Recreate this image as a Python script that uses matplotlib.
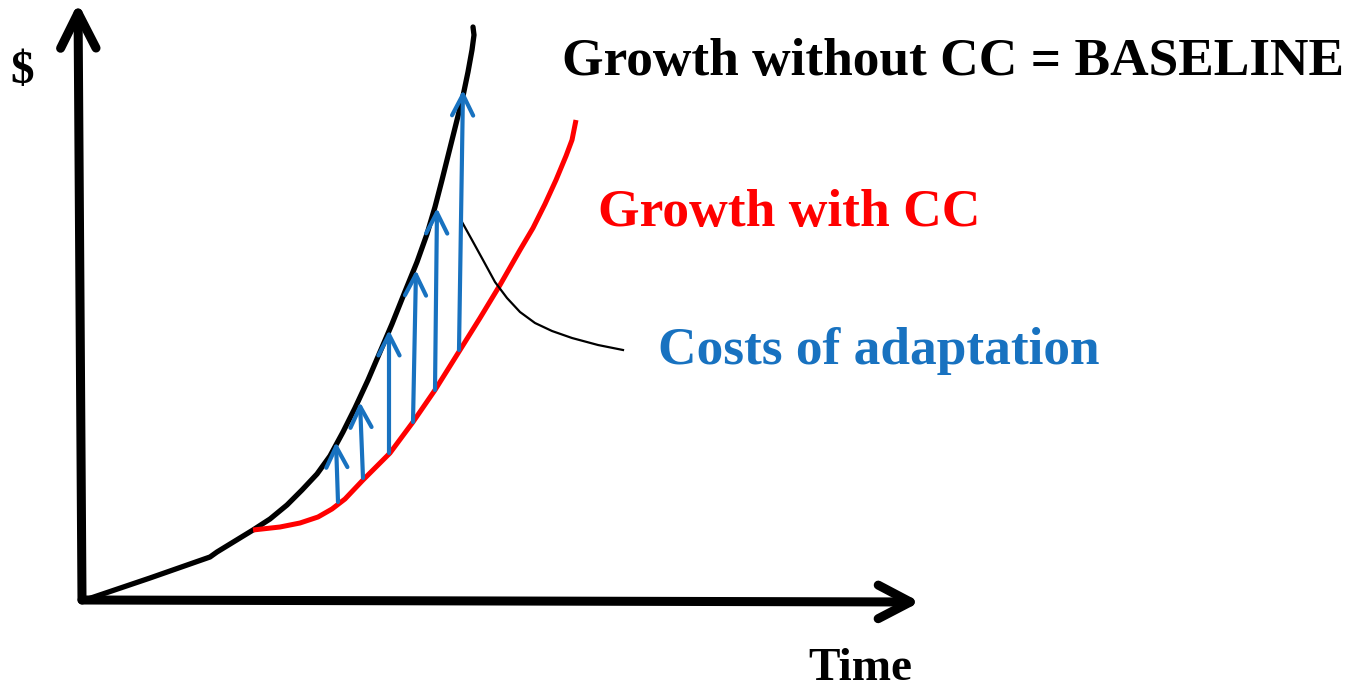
import matplotlib
matplotlib.use("Agg")
import matplotlib.pyplot as plt

# ---- data (diagram units: origin at the axes corner, x = time, y = $) ----
baseline_t = [3, 68, 128, 135, 171, 188, 205, 220, 235, 248, 261, 273, 286, 298, 310,
              322, 335, 345, 353, 360, 367, 374, 381, 386, 390, 392, 391]
baseline_v = [0, 22, 43, 48, 70, 81, 95, 110, 126, 144, 168, 192, 220, 248, 276,
              306, 338, 366, 393, 420, 448, 476, 504, 528, 550, 565, 573]

cc_t = [171, 198, 218, 236, 250, 263, 281, 308, 331, 353, 378, 398, 418, 438, 451,
        463, 474, 484, 490, 494]
cc_v = [70, 73, 77, 83, 91, 101, 120, 147, 178, 210, 250, 282, 315, 350, 372,
        396, 420, 444, 460, 480]

# adaptation-cost arrows: start on CC curve, end on baseline
arrow_t0 = [256, 281, 307, 331, 353, 377]
arrow_v0 = [98, 122, 147, 178, 210, 250]
arrow_t1 = [254, 278, 307, 334, 355, 381]
arrow_v1 = [158, 198, 270, 330, 392, 510]

pointer_t = [380, 390, 401, 413, 425, 438, 453, 470, 490, 516, 541]
pointer_v = [378, 360, 340, 318, 302, 288, 277, 269, 262, 255, 250]

labels = {
    "baseline": "Growth without CC = BASELINE",
    "cc": "Growth with CC",
    "cost": "Costs of adaptation",
    "x": "Time",
    "y": "$",
}

RED = "#FF0000"
BLUE = "#1872C0"

fig = plt.figure(figsize=(13.5, 6.91), dpi=100)
ax = fig.add_axes([0, 0, 1, 1])
ax.set_xlim(-82, 1268)
ax.set_ylim(-91, 600)
ax.axis("off")

# axes arrows
ax.annotate("", xy=(-4, 597), xytext=(0, 0),
            arrowprops=dict(arrowstyle="->,head_length=1.15,head_width=0.58", lw=6.5,
                            color="black", shrinkA=0, shrinkB=0, mutation_scale=22,
                            capstyle="round", joinstyle="round"))
ax.annotate("", xy=(838, -2), xytext=(0, 0),
            arrowprops=dict(arrowstyle="->,head_length=1.05,head_width=0.55", lw=6.5,
                            color="black", shrinkA=0, shrinkB=0, mutation_scale=22,
                            capstyle="round", joinstyle="round"))

# curves
ax.plot(baseline_t, baseline_v, color="black", lw=3.8, solid_capstyle="round",
        solid_joinstyle="round")
ax.plot(cc_t, cc_v, color=RED, lw=3.6, solid_capstyle="butt", solid_joinstyle="round")

# cost arrows
for t0, v0, t1, v1 in zip(arrow_t0, arrow_v0, arrow_t1, arrow_v1):
    ax.annotate("", xy=(t1, v1), xytext=(t0, v0),
                arrowprops=dict(arrowstyle="->,head_length=0.75,head_width=0.38", lw=3,
                                color=BLUE, shrinkA=0, shrinkB=0, mutation_scale=20,
                                capstyle="round", joinstyle="round"))

ax.plot(pointer_t, pointer_v, color="black", lw=1.6, solid_joinstyle="round")

font = dict(family=["Liberation Serif", "DejaVu Serif"], weight="bold")
ax.text(480, 538, labels["baseline"], fontsize=38.4, color="black", ha="left", va="center", **font)
ax.text(516, 387, labels["cc"], fontsize=38.5, color=RED, ha="left", va="center", **font)
ax.text(576, 249, labels["cost"], fontsize=38.4, color=BLUE, ha="left", va="center", **font)
ax.text(726, -80, labels["x"], fontsize=34, color="black", ha="left", va="baseline", **font)
ax.text(-60, 528, labels["y"], fontsize=34, color="black", ha="center", va="center", **font)

fig.savefig("out.png", dpi=100)
